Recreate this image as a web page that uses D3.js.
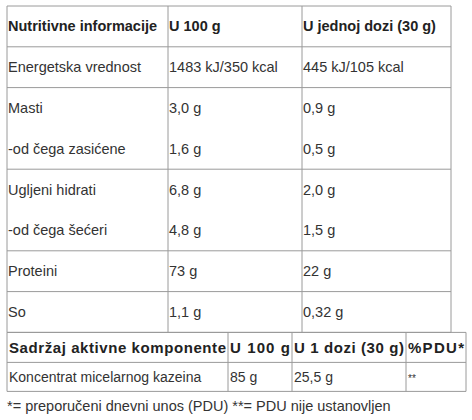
<!DOCTYPE html>
<html>
<head>
<meta charset="utf-8">
<script src="https://cdn.jsdelivr.net/npm/d3@7"></script>
<style>
  body { margin: 0; background: #fff; }
  text { font-family: "Liberation Sans", Arial, sans-serif; }
</style>
</head>
<body>
<div id="chart"></div>
<script>
// nutrition table data
var headers = ["Nutritivne informacije", "U 100 g", "U jednoj dozi (30 g)"];
var nutrients = ["Energetska vrednost", "Masti", "-od čega zasićene", "Ugljeni hidrati", "-od čega šećeri", "Proteini", "So"];
var per100 = ["1483 kJ/350 kcal", "3,0 g", "1,6 g", "6,8 g", "4,8 g", "73 g", "1,1 g"];
var perDose = ["445 kJ/105 kcal", "0,9 g", "0,5 g", "2,0 g", "1,5 g", "22 g", "0,32 g"];
// which rows sit in the same bordered group
var groups = [0, 1, 1, 2, 2, 3, 4];

var activeHeaders = ["Sadržaj aktivne komponente", "U 100 g", "U 1 dozi (30 g)", "%PDU*"];
var activeRow = ["Koncentrat micelarnog kazeina", "85 g", "25,5 g", "**"];
var footnote = "*= preporučeni dnevni unos (PDU) **= PDU nije ustanovljen";

var svgWidth = 472, svgHeight = 420;
var svg = d3.select("#chart").append("svg")
  .attr("width", svgWidth).attr("height", svgHeight);

var line = "#9a9a9a";

// ---- top table ----
var colEdges = [7, 168, 302, 451];
var rowH = 40.8;
var y = d3.scaleLinear().domain([0, 8]).range([6, 6 + 8 * rowH]);

var tbl = svg.append("g");
// horizontal lines: top, under header, and at group changes
var hLines = [0, 1];
groups.forEach(function(g, i) {
  if (i === groups.length - 1 || groups[i + 1] !== g) hLines.push(i + 2);
});
tbl.selectAll(".h").data(hLines).enter().append("line")
  .attr("x1", colEdges[0]).attr("x2", colEdges[3])
  .attr("y1", d => y(d)).attr("y2", d => y(d))
  .attr("stroke", line);
tbl.selectAll(".v").data(colEdges).enter().append("line")
  .attr("x1", d => d).attr("x2", d => d)
  .attr("y1", y(0)).attr("y2", y(8))
  .attr("stroke", line);

tbl.selectAll(".hd").data(headers).enter().append("text")
  .attr("x", (d, i) => colEdges[i] + 1)
  .attr("y", y(0.5) + 5)
  .attr("font-size", 14.5).attr("font-weight", "bold").attr("fill", "#222")
  .text(d => d);

var cols = [nutrients, per100, perDose];
cols.forEach(function(col, c) {
  tbl.selectAll(".c" + c).data(col).enter().append("text")
    .attr("x", colEdges[c] + 1)
    .attr("y", (d, i) => y(i + 1.5) + 5)
    .attr("font-size", 14.5).attr("fill", "#333")
    .text(d => d);
});

// ---- active component table ----
var aEdges = [7, 228, 292, 406, 466];
var aTop = y(8), aMid = aTop + 30, aBot = aMid + 29;
var bot = svg.append("g");
bot.selectAll(".h").data([aTop, aMid, aBot]).enter().append("line")
  .attr("x1", aEdges[0]).attr("x2", aEdges[4])
  .attr("y1", d => d).attr("y2", d => d).attr("stroke", line);
bot.selectAll(".v").data(aEdges).enter().append("line")
  .attr("x1", d => d).attr("x2", d => d)
  .attr("y1", aTop).attr("y2", aBot).attr("stroke", line);
bot.selectAll(".hd").data(activeHeaders).enter().append("text")
  .attr("x", (d, i) => aEdges[i] + 2)
  .attr("y", aTop + 21)
  .attr("font-size", 15).attr("font-weight", "bold").attr("fill", "#222")
  .attr("textLength", (d, i) => aEdges[i + 1] - aEdges[i] - 4)
  .text(d => d);
bot.selectAll(".rw").data(activeRow).enter().append("text")
  .attr("x", (d, i) => aEdges[i] + 2)
  .attr("y", aMid + 20)
  .attr("font-size", (d, i) => i === 3 ? 10 : 14)
  .attr("fill", "#333")
  .text(d => d);

svg.append("text")
  .attr("x", 7).attr("y", aBot + 20)
  .attr("font-size", 14.5).attr("fill", "#333")
  .text(footnote);
</script>
</body>
</html>
